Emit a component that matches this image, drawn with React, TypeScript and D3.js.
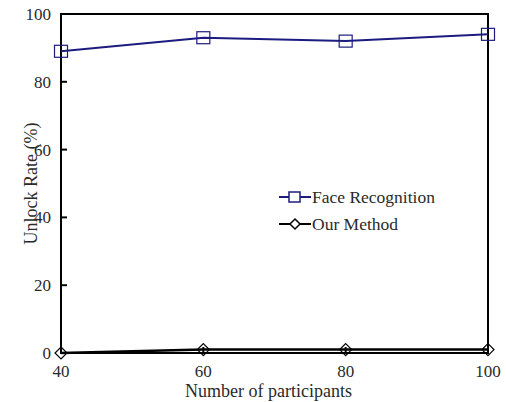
import React from 'react';
import * as d3 from 'd3';

const participants = [40, 60, 80, 100];
const faceRecognition = [89, 93, 92, 94];
const ourMethod = [0, 1, 1, 1];
const yTicks = [0, 20, 40, 60, 80, 100];
const xTicks = [40, 60, 80, 100];

const W = 506;
const H = 402;
const margin = { top: 14, right: 18, bottom: 49, left: 61 };

const App = () => {
  const x = d3.scaleLinear().domain([40, 100]).range([margin.left, W - margin.right]);
  const y = d3.scaleLinear().domain([0, 100]).range([H - margin.bottom, margin.top]);
  const line = d3.line<[number, number]>().x(d => x(d[0])).y(d => y(d[1]));
  const faceData = participants.map((p, i) => [p, faceRecognition[i]] as [number, number]);
  const ourData = participants.map((p, i) => [p, ourMethod[i]] as [number, number]);
  const font = '"Liberation Serif", "Times New Roman", serif';
  const navy = '#1c1c80';
  const textColor = '#2a2a2a';
  const diamond = (cx: number, cy: number, s: number) =>
    `M${cx},${cy - s}L${cx + s},${cy}L${cx},${cy + s}L${cx - s},${cy}Z`;

  return (
    <svg width={W} height={H} style={{ position: 'absolute', left: 0, top: 0, background: '#fff' }}>
      {/* frame */}
      <rect x={x(40)} y={y(100)} width={x(100) - x(40)} height={y(0) - y(100)} fill="none" stroke="#000" strokeWidth={2} />
      {/* y ticks */}
      {yTicks.map(t => (
        <g key={t}>
          <line x1={x(40)} x2={x(40) + 6} y1={y(t)} y2={y(t)} stroke="#000" strokeWidth={2} />
          <text x={x(40) - 10} y={y(t)} dy="0.35em" textAnchor="end" fontFamily={font} fontSize={17} fill={textColor}>{t}</text>
        </g>
      ))}
      {/* x ticks */}
      {xTicks.map(t => (
        <g key={t}>
          <line x1={x(t)} x2={x(t)} y1={y(0)} y2={y(0) - 6} stroke="#000" strokeWidth={2} />
          <text x={x(t)} y={y(0) + 24} textAnchor="middle" fontFamily={font} fontSize={17} fill={textColor}>{t}</text>
        </g>
      ))}
      {/* series */}
      <path d={line(faceData) || ''} fill="none" stroke={navy} strokeWidth={2} />
      {faceData.map((d, i) => (
        <rect key={i} x={x(d[0]) - 6.5} y={y(d[1]) - 6} width={13} height={12} fill="none" stroke={navy} strokeWidth={1.2} />
      ))}
      <path d={line(ourData) || ''} fill="none" stroke="#000" strokeWidth={2.5} />
      {ourData.map((d, i) => (
        <path key={i} d={diamond(x(d[0]), y(d[1]), 6)} fill="none" stroke="#000" strokeWidth={1.2} />
      ))}
      {/* legend */}
      <g transform="translate(279,197)">
        <line x1={0} x2={32} y1={0} y2={0} stroke={navy} strokeWidth={2} />
        <rect x={10} y={-5} width={11} height={10} fill="#fff" stroke={navy} strokeWidth={1.5} />
        <text x={33} y={0} dy="0.35em" fontFamily={font} fontSize={17.5} fill={textColor}>Face Recognition</text>
      </g>
      <g transform="translate(279,224)">
        <line x1={0} x2={32} y1={0} y2={0} stroke="#000" strokeWidth={2} />
        <path d={diamond(16, 0, 5)} fill="#fff" stroke="#000" strokeWidth={1.5} />
        <text x={33} y={0} dy="0.35em" fontFamily={font} fontSize={17.5} fill={textColor}>Our Method</text>
      </g>
      {/* axis titles */}
      <text x={(x(40) + x(100)) / 2 - 6} y={397} textAnchor="middle" fontFamily={font} fontSize={18} fill={textColor}>Number of participants</text>
      <text transform={`translate(37,${(y(0) + y(100)) / 2}) rotate(-90)`} textAnchor="middle" fontFamily={font} fontSize={18} fill={textColor}>Unlock Rate (%)</text>
    </svg>
  );
};

export default App;
